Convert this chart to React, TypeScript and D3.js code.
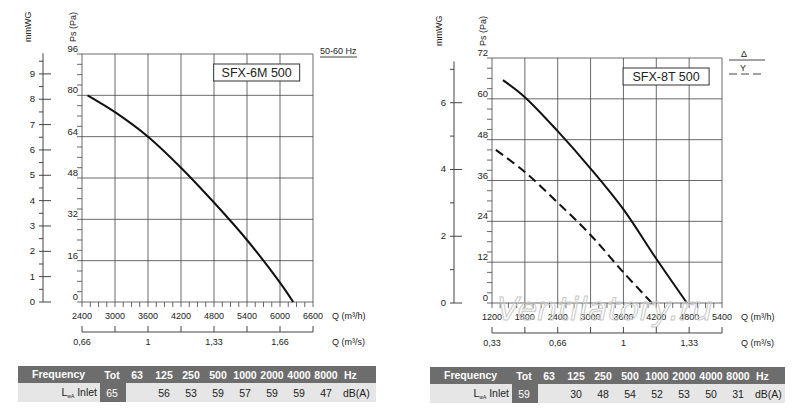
import { useEffect, useRef } from "react";
import * as d3 from "d3";

// left chart data
const leftQ = [2500, 3000, 3600, 4200, 4800, 5400, 6000, 6240];
const leftPs = [80, 73.5, 64, 52, 38.5, 24, 7.5, 0];
const leftBands = ["", "56", "53", "59", "57", "59", "59", "47"];
// right chart data
const rightQ = [1400, 1800, 2400, 3000, 3600, 4200, 4760];
const rightPsDelta = [65.5, 60.5, 50.5, 39.5, 27.5, 13, 0];
const rightQY = [1270, 1800, 2400, 3000, 3600, 4120];
const rightPsY = [45, 38.5, 29.5, 20, 9, 0];
const rightBands = ["", "30", "48", "54", "52", "53", "50", "31"];
const freqs = ["63", "125", "250", "500", "1000", "2000", "4000", "8000"];

type Cfg = {
  x0: number; x1: number; y0: number; y1: number; qMin: number; qMax: number; psMax: number; psStep: number;
  mmAxisX: number; mmTicks: number[]; mmMinor: number; title: string;
  qsTicks: [number, string][]; tableX: number; tableW: number; tot: string; bands: string[];
};

const draw = (svg: any, c: Cfg) => {
  const g = svg.append("g").attr("font-family", "Liberation Sans, Arial").attr("fill", "#222");
  const x = d3.scaleLinear().domain([c.qMin, c.qMax]).range([c.x0, c.x1]);
  const y = d3.scaleLinear().domain([0, c.psMax]).range([c.y1, c.y0]);
  // grid
  for (let q = c.qMin; q <= c.qMax; q += 600)
    g.append("line").attr("x1", x(q)).attr("x2", x(q)).attr("y1", c.y0).attr("y2", c.y1).attr("stroke", "#444").attr("stroke-width", 0.8);
  for (let p = 0; p <= c.psMax; p += c.psStep)
    g.append("line").attr("x1", c.x0).attr("x2", c.x1).attr("y1", y(p)).attr("y2", y(p)).attr("stroke", "#444").attr("stroke-width", 0.8);
  // Ps axis minor ticks
  for (let p = 0; p <= c.psMax; p += c.psStep / 4)
    g.append("line").attr("x1", c.x0 - 5).attr("x2", c.x0).attr("y1", y(p)).attr("y2", y(p)).attr("stroke", "#444").attr("stroke-width", 0.8);
  for (let p = 0; p <= c.psMax; p += c.psStep)
    g.append("text").attr("x", c.x0 - 4).attr("y", y(p) - 2).attr("text-anchor", "end").attr("font-size", 9.5).text(p);
  // Q minor ticks
  for (let q = c.qMin; q <= c.qMax; q += 150)
    g.append("line").attr("x1", x(q)).attr("x2", x(q)).attr("y1", c.y1).attr("y2", c.y1 + 5).attr("stroke", "#444").attr("stroke-width", 0.8);
  for (let q = c.qMin; q <= c.qMax; q += 600)
    g.append("text").attr("x", x(q)).attr("y", c.y1 + 17).attr("text-anchor", "middle").attr("font-size", 9).text(q);
  g.append("text").attr("x", c.x1 + 19).attr("y", c.y1 + 17).attr("font-size", 9).text("Q (m³/h)");
  // Q m3/s axis
  const ya = c.y1 + 30;
  g.append("line").attr("x1", c.x0).attr("x2", c.x1).attr("y1", ya).attr("y2", ya).attr("stroke", "#444");
  for (let q = c.qMin; q <= c.qMax; q += 600)
    g.append("line").attr("x1", x(q)).attr("x2", x(q)).attr("y1", ya - 6).attr("y2", ya).attr("stroke", "#444");
  c.qsTicks.forEach(([q, l]) =>
    g.append("text").attr("x", x(q)).attr("y", ya + 13).attr("text-anchor", "middle").attr("font-size", 9).text(l));
  g.append("text").attr("x", c.x1 + 19).attr("y", ya + 13).attr("font-size", 9).text("Q (m³/s)");
  // mmWG axis
  const ym = d3.scaleLinear().domain([0, c.psMax / 9.81]).range([c.y1, y(c.psMax)]);
  const top = ym(Math.floor(c.psMax / 9.81 / c.mmMinor) * c.mmMinor) - 8;
  g.append("line").attr("x1", c.mmAxisX).attr("x2", c.mmAxisX).attr("y1", top).attr("y2", c.y1).attr("stroke", "#444");
  for (let m = 0; m <= c.psMax / 9.81; m += c.mmMinor)
    g.append("line").attr("x1", c.mmAxisX - 4).attr("x2", c.mmAxisX).attr("y1", ym(m)).attr("y2", ym(m)).attr("stroke", "#444");
  c.mmTicks.forEach((m) => {
    g.append("line").attr("x1", c.mmAxisX).attr("x2", c.mmAxisX + 8).attr("y1", ym(m)).attr("y2", ym(m)).attr("stroke", "#444");
    g.append("text").attr("x", c.mmAxisX - 8).attr("y", ym(m) + 3).attr("text-anchor", "end").attr("font-size", 9.5).text(m);
  });
  g.append("text").attr("transform", `translate(${c.mmAxisX - 12},${c.y0 - 12}) rotate(-90)`).attr("font-size", 9).text("mmWG");
  g.append("text").attr("transform", `translate(${c.x0 - 6},${c.y0 - 12}) rotate(-90)`).attr("font-size", 9).text("Ps (Pa)");
  // title box
  const tw = 86;
  const bx = x(c.qMin + (c.qMax - c.qMin) * 0.57);
  g.append("rect").attr("x", bx).attr("y", c.y0 + 10).attr("width", tw).attr("height", 17)
    .attr("fill", "#fff").attr("stroke", "#333");
  g.append("text").attr("x", bx + tw / 2).attr("y", c.y0 + 23).attr("text-anchor", "middle").attr("font-size", 12.5).text(c.title);
  // table
  const tx = c.tableX, tw2 = c.tableW, hy = c.y1 + 64;
  g.append("rect").attr("x", tx).attr("y", hy).attr("width", tw2).attr("height", 17).attr("fill", "#6d6d6d");
  g.append("rect").attr("x", tx).attr("y", hy + 17).attr("width", tw2).attr("height", 19).attr("fill", "#e6e6e6");
  g.append("rect").attr("x", tx + 82).attr("y", hy + 17).attr("width", 26).attr("height", 19).attr("fill", "#6d6d6d");
  g.append("text").attr("x", tx + 14).attr("y", hy + 12).attr("fill", "#fff").attr("font-weight", "bold").attr("font-size", 10.5).text("Frequency");
  g.append("text").attr("x", tx + 94).attr("y", hy + 13).attr("text-anchor", "middle").attr("fill", "#fff").attr("font-weight", "bold").attr("font-size", 10.5).text("Tot");
  g.append("text").attr("x", tx + 94).attr("y", hy + 31).attr("text-anchor", "middle").attr("fill", "#fff").attr("font-size", 10.5).text(c.tot);
  const lt = g.append("text").attr("x", tx + 79).attr("y", hy + 30).attr("text-anchor", "end").attr("font-size", 10.5);
  lt.append("tspan").text("L");
  lt.append("tspan").attr("font-size", 5).attr("dy", 2).text("wA");
  lt.append("tspan").attr("dy", -2).text(" Inlet");
  const fx = d3.scalePoint().domain(freqs).range([tx + 119, tx + 308]);
  freqs.forEach((f, i) => {
    g.append("text").attr("x", fx(f)).attr("y", hy + 13).attr("text-anchor", "middle").attr("fill", "#fff").attr("font-weight", "bold").attr("font-size", 10.5).text(f);
    g.append("text").attr("x", fx(f)).attr("y", hy + 31).attr("text-anchor", "middle").attr("font-size", 10.5).text(c.bands[i]);
  });
  g.append("text").attr("x", tx + 326).attr("y", hy + 13).attr("fill", "#fff").attr("font-weight", "bold").attr("font-size", 10.5).text("Hz");
  g.append("text").attr("x", tx + 325).attr("y", hy + 31).attr("font-size", 10.5).text("dB(A)");
  return { g, x, y };
};

const App = () => {
  const ref = useRef<SVGSVGElement>(null);
  useEffect(() => {
    const svg = d3.select(ref.current);
    svg.selectAll("*").remove();
    svg.append("rect").attr("width", 800).attr("height", 420).attr("fill", "#fff");
    const line = d3.line<[number, number]>().curve(d3.curveCatmullRom.alpha(0.5));

    const L = draw(svg, {
      x0: 82, x1: 313, y0: 54, y1: 302, qMin: 2400, qMax: 6600, psMax: 96, psStep: 16,
      mmAxisX: 43, mmTicks: [0, 1, 2, 3, 4, 5, 6, 7, 8, 9], mmMinor: 0.5, title: "SFX-6M 500",
      qsTicks: [[2400, "0,66"], [3600, "1"], [4800, "1,33"], [6000, "1,66"]],
      tableX: 18, tableW: 358, tot: "65", bands: leftBands,
    });
    L.g.append("path").attr("d", line(leftQ.map((q, i) => [L.x(q), L.y(leftPs[i])]))).attr("fill", "none").attr("stroke", "#111").attr("stroke-width", 2);
    L.g.append("text").attr("x", 320).attr("y", 54).attr("font-size", 9).text("50-60 Hz");
    L.g.append("line").attr("x1", 320).attr("x2", 357).attr("y1", 57).attr("y2", 57).attr("stroke", "#444");

    const R = draw(svg, {
      x0: 492, x1: 722, y0: 58, y1: 303, qMin: 1200, qMax: 5400, psMax: 72, psStep: 12,
      mmAxisX: 454, mmTicks: [0, 2, 4, 6], mmMinor: 1, title: "SFX-8T 500",
      qsTicks: [[1200, "0,33"], [2400, "0,66"], [3600, "1"], [4800, "1,33"]],
      tableX: 430, tableW: 355, tot: "59", bands: rightBands,
    });
    R.g.append("path").attr("d", line(rightQ.map((q, i) => [R.x(q), R.y(rightPsDelta[i])]))).attr("fill", "none").attr("stroke", "#111").attr("stroke-width", 2);
    R.g.append("path").attr("d", line(rightQY.map((q, i) => [R.x(q), R.y(rightPsY[i])]))).attr("fill", "none").attr("stroke", "#111").attr("stroke-width", 2).attr("stroke-dasharray", "9,5");
    R.g.append("text").attr("x", 741).attr("y", 57).attr("font-size", 9).text("Δ");
    R.g.append("line").attr("x1", 729).attr("x2", 765).attr("y1", 60).attr("y2", 60).attr("stroke", "#444");
    R.g.append("text").attr("x", 740).attr("y", 71).attr("font-size", 9).text("Y");
    R.g.append("line").attr("x1", 729).attr("x2", 765).attr("y1", 74).attr("y2", 74).attr("stroke", "#444").attr("stroke-dasharray", "8,4");
    // watermark
    svg.append("text").attr("x", 605).attr("y", 320).attr("text-anchor", "middle").attr("font-family", "DejaVu Sans")
      .attr("font-style", "italic").attr("font-size", 32).attr("fill", "none").attr("stroke", "#c8c8c8").attr("stroke-width", 1)
      .text("Ventilatory.ru");
  }, []);
  return <svg ref={ref} width={800} height={420} style={{ display: "block", margin: -8 }} />;
};

export default App;
